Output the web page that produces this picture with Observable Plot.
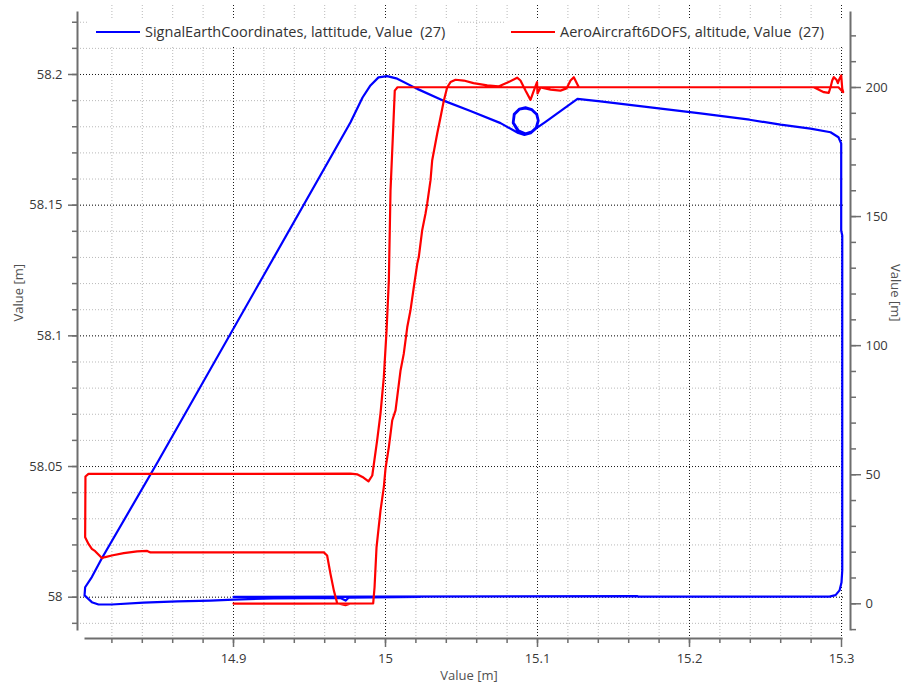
<!DOCTYPE html>
<html><head><meta charset="utf-8">
<script src="https://cdn.jsdelivr.net/npm/d3@7"></script>
<script src="https://cdn.jsdelivr.net/npm/@observablehq/plot@0.6"></script>
<style>
body{margin:0;background:#fff;}
#wrap{position:relative;width:904px;height:684px;}
svg text{white-space:pre;}
.leg{position:absolute;top:18px;height:28px;line-height:28px;background:#fff;font-family:"Open Sans";font-size:14.5px;color:#333;white-space:pre;}
.sw{position:absolute;top:13px;height:2px;width:44px;}
.lt{position:absolute;top:0;}
</style></head>
<body>
<div id="wrap"></div>
<script>
// ---- data ----
const seriesNames = ["SignalEarthCoordinates, lattitude, Value  (27)", "AeroAircraft6DOFS, altitude, Value  (27)"];
const seriesColors = ["#0000ff", "#ff0000"];

const blueLon = [14.9000,15.1658,15.1664,15.2921,15.2961,15.2987,15.3000,15.3005,15.3005,15.2998,15.2998,15.2980,15.2928,15.2796,15.2599,15.2395,15.2072,15.1743,15.1414,15.1263,15.1151,15.1053,15.0993,
15.0961,15.0921,15.0875,15.0842,15.0849,15.0882,15.0921,15.0961,15.0993,15.1003,15.0990,15.0954,15.0914,15.0875,
15.0838,15.0845,15.0880,15.0921,15.0963,15.0997,15.1007,15.0993,15.0956,15.0914,15.0873,
15.0757,15.0559,15.0382,15.0209,15.0077,15.0011,14.9954,14.9901,14.9849,14.9770,14.8507,14.8134,14.8068,14.8024,14.8020,14.8068,14.8112,14.8199,14.8408,14.8632,14.8849,14.9000,14.9263,14.9704,14.9737,14.9757,15.0230];
const blueLat = [58.0001,58.0004,58.0002,58.0002,58.0008,58.0026,58.0056,58.0102,58.1384,58.1403,58.1736,58.1760,58.1779,58.1793,58.1808,58.1827,58.1851,58.1874,58.1897,58.1907,58.1860,58.1819,58.1795,
58.1782,58.1774,58.1786,58.1816,58.1847,58.1866,58.1870,58.1864,58.1847,58.1824,58.1797,58.1778,58.1772,58.1778,
58.1815,58.1849,58.1869,58.1874,58.1867,58.1848,58.1823,58.1795,58.1775,58.1769,58.1776,
58.1814,58.1860,58.1900,58.1945,58.1984,58.1994,58.1989,58.1958,58.1912,58.1817,58.0523,58.0149,58.0077,58.0038,58.0007,57.9981,57.9972,57.9972,57.9979,57.9984,57.9987,57.9991,57.9995,57.9997,57.9987,57.9998,58.0001];

const redLon = [14.9000,14.9441,14.9919,14.9928,14.9941,14.9967,14.9989,15.0000,15.0022,15.0044,15.0066,15.0099,15.0120,15.0143,15.0164,15.0186,15.0209,15.0219,15.0241,15.0263,15.0274,15.0296,15.0307,15.0340,15.0362,15.0384,15.0406,15.0428,15.0461,15.0515,15.0579,15.0669,15.0743,15.0803,15.0866,15.0888,15.0921,15.0954,15.0974,15.0997,15.1000,15.1020,15.1086,15.1151,15.1191,15.1217,15.1239,15.1261,15.1272,
15.2818,15.2884,15.2916,15.2928,15.2939,15.2949,15.2967,15.2976,15.2987,15.2998,15.3005,15.3011,15.2980,
15.0079,15.0061,15.0051,15.0033,15.0022,15.0007,14.9989,14.9967,14.9945,14.9913,14.9888,14.9855,14.9816,14.9770,
14.8046,14.8026,14.8024,14.8046,14.8068,14.8090,14.8134,14.8156,14.8199,14.8278,14.8366,14.8432,14.8454,14.9594,14.9616,14.9638,14.9660,14.9682,14.9737,14.9770,14.9901];
const redAlt = [0.1,0.1,0.2,6.4,21.9,36.1,45.2,52.4,60.7,71.0,74.9,90.4,96.8,107.1,113.6,122.6,131.7,134.3,144.6,151.1,154.9,164.0,171.7,182.1,188.5,195.0,200.1,202.1,203.0,202.7,201.7,200.8,200.4,201.9,203.8,202.7,198.8,195.2,198.5,202.1,197.7,200.0,199.2,198.8,199.6,202.7,204.0,201.4,200.1,
200.1,198.2,197.9,200.1,202.7,204.0,203.0,201.7,203.4,204.7,199.5,198.2,200.1,
200.1,198.8,184.6,160.1,125.2,105.9,87.8,73.7,63.3,49.7,47.4,48.9,50.1,50.4,
50.3,49.3,25.8,23.2,21.3,20.4,17.7,18.1,18.7,19.6,20.3,20.5,19.9,19.9,18.7,11.6,5.2,0.2,-0.5,0.1,0.1];

// ticks
const xMajor = [14.9, 15, 15.1, 15.2, 15.3];
const xMinor = d3.range(41, 65).map(i => +(i * 0.02 + 14).toFixed(2)); // 14.82 .. 15.28
const latMajor = [58, 58.05, 58.1, 58.15, 58.2];
const latMinor = d3.range(-1, 23).map(i => +(58 + i * 0.01).toFixed(2)); // 57.99 .. 58.22
const altMajor = [0, 50, 100, 150, 200];
const altMinor = d3.range(-1, 23).map(i => i * 10); // -10 .. 220

// ---- scales / layout ----
const xDomain = [14.797368, 15.305921];
const latDomain = [57.984197, 58.223723];
const altDomain = [-13.442, 229.053];
const toLat = a => latDomain[0] + (a - altDomain[0]) * (latDomain[1] - latDomain[0]) / (altDomain[1] - altDomain[0]);
const toAlt = l => altDomain[0] + (l - latDomain[0]) * (altDomain[1] - altDomain[0]) / (latDomain[1] - latDomain[0]);
const fmt = v => String(+(+v).toFixed(2));

const blue = blueLon.map((x, i) => ({x, y: blueLat[i]}));
const red = redLon.map((x, i) => ({x, y: toLat(redAlt[i])}));

const minorGrid = {stroke: "#b9b9b9", strokeOpacity: 1, strokeDasharray: "1,2"};
const majorGrid = {stroke: "#1a1a1a", strokeOpacity: 1, strokeDasharray: "1,2"};
const axisCol = "#6e6e6e";

const chart = Plot.plot({
  width: 904, height: 684,
  marginLeft: 77, marginRight: 54, marginTop: 12, marginBottom: 46,
  style: {fontFamily: "Open Sans", fontSize: "13px", color: "#383838", background: "#fff"},
  x: {domain: xDomain},
  y: {domain: latDomain},
  marks: [
    Plot.gridX(xMinor, {...minorGrid, insetTop: -7, insetBottom: 2}),
    Plot.gridY(latMinor, {...minorGrid, insetRight: 5}),
    Plot.gridX(xMajor, {...majorGrid, insetTop: -7, insetBottom: 2}),
    Plot.gridY(latMajor, {...majorGrid, insetRight: 5}),
    Plot.line(blue, {x: "x", y: "y", stroke: seriesColors[0], strokeWidth: 2.2}),
    Plot.line(red, {x: "x", y: "y", stroke: seriesColors[1], strokeWidth: 2.2}),
    Plot.frame({anchor: "left", insetBottom: 9, stroke: axisCol, strokeWidth: 2}),
    Plot.frame({anchor: "right", insetBottom: 9, stroke: axisCol, strokeWidth: 2}),
    Plot.frame({anchor: "bottom", insetLeft: 8, insetRight: 9, stroke: axisCol, strokeWidth: 2}),
    Plot.axisY(latMinor, {anchor: "left", tickSize: 5, tickFormat: () => "", label: null, stroke: axisCol, strokeWidth: 1.5}),
    Plot.axisY(latMajor, {anchor: "left", tickSize: 9, tickPadding: 6, tickFormat: fmt, label: null, stroke: axisCol, strokeWidth: 1.5}),
    Plot.axisY(altMinor.map(toLat), {anchor: "right", tickSize: 5, tickFormat: () => "", label: null, stroke: axisCol, strokeWidth: 1.5}),
    Plot.axisY(altMajor.map(toLat), {anchor: "right", tickSize: 10, tickPadding: 5, tickFormat: d => String(Math.round(toAlt(d))), label: null, stroke: axisCol, strokeWidth: 1.5}),
    Plot.axisX(xMinor, {anchor: "bottom", tickSize: 5, tickFormat: () => "", label: null, stroke: axisCol, strokeWidth: 1.5}),
    Plot.axisX(xMajor, {anchor: "bottom", tickSize: 9, tickPadding: 6, tickFormat: fmt, label: null, stroke: axisCol, strokeWidth: 1.5}),
    Plot.text(["Value [m]"], {frameAnchor: "bottom", dx: 5, dy: 32, lineAnchor: "top", fill: "#505050"}),
    Plot.text(["Value [m]"], {frameAnchor: "left", rotate: -90, dx: -59, dy: -4, fill: "#505050"}),
    Plot.text(["Value [m]"], {frameAnchor: "right", rotate: 90, dx: 45, dy: -4, fill: "#505050"})
  ]
});

const wrap = document.getElementById("wrap");
wrap.appendChild(chart);

// legend (drawn over the plot area, as in the reference)
const legendBoxes = [{left: 88, width: 369, sw: 8, tx: 57}, {left: 505, width: 340, sw: 6, tx: 55}];
seriesNames.forEach((name, i) => {
  const b = legendBoxes[i];
  const box = document.createElement("div");
  box.className = "leg";
  box.style.left = b.left + "px";
  box.style.width = b.width + "px";
  const sw = document.createElement("div");
  sw.className = "sw";
  sw.style.left = b.sw + "px";
  sw.style.background = seriesColors[i];
  const t = document.createElement("span");
  t.className = "lt";
  t.style.left = b.tx + "px";
  t.textContent = name;
  box.appendChild(sw);
  box.appendChild(t);
  wrap.appendChild(box);
});
</script>
</body></html>
